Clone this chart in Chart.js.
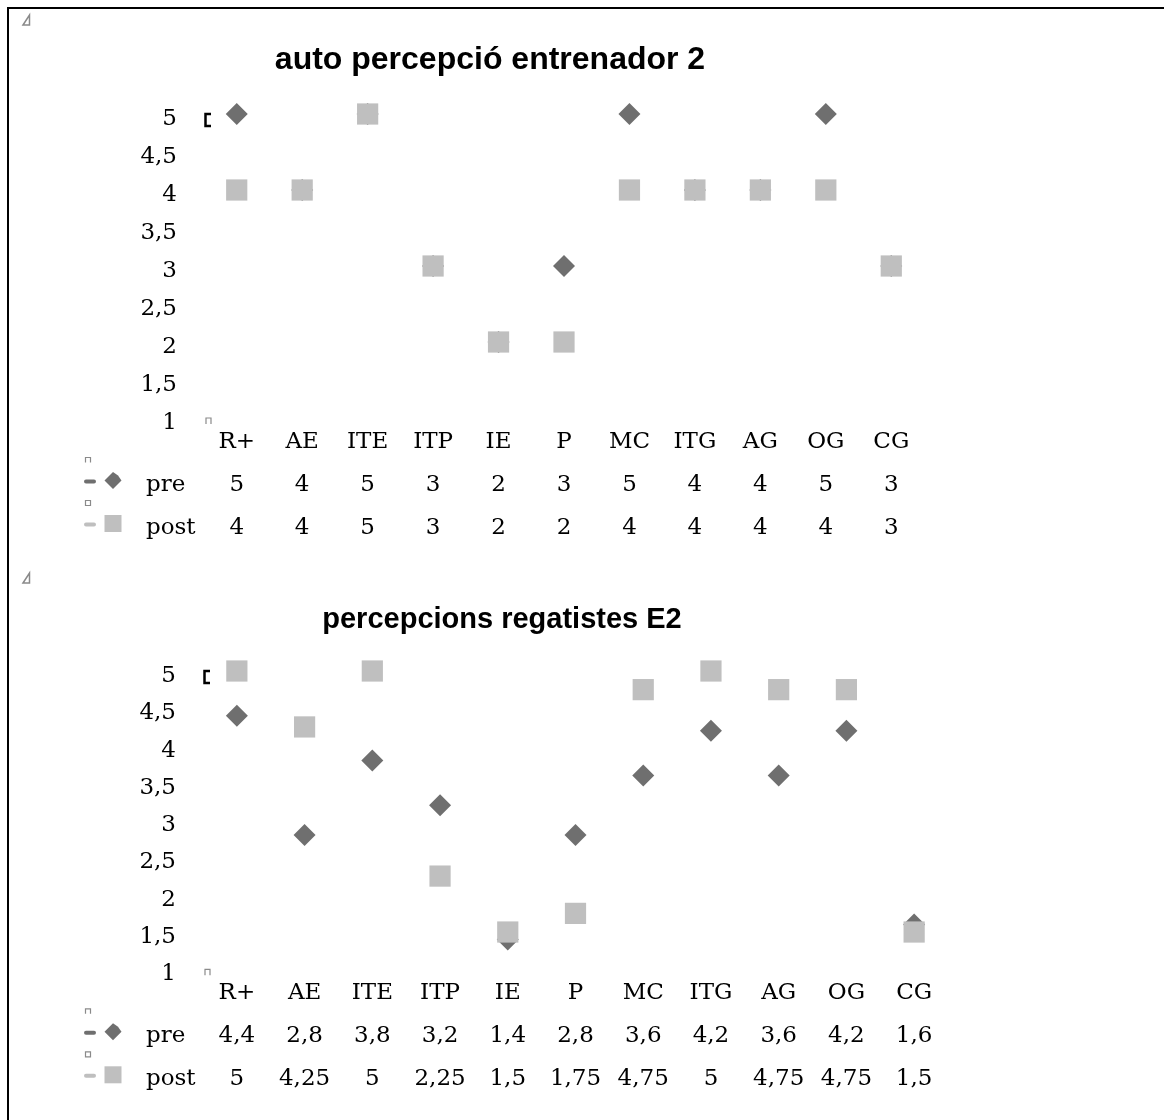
<!DOCTYPE html>
<html>
<head>
<meta charset="utf-8">
<script src="https://cdn.jsdelivr.net/npm/chart.js@4.4.0/dist/chart.umd.min.js"></script>
<style>
  html, body { margin: 0; padding: 0; background: #fff; }
  #page { position: relative; width: 1164px; height: 1120px; overflow: hidden; }
  .box { position: absolute; left: 0; width: 1164px; height: 560px; }
  #frame { position: absolute; left: 7px; top: 7px; width: 1300px; height: 1300px;
           border-left: 2px solid #000; border-top: 2px solid #000; pointer-events: none; }
</style>
</head>
<body>
<div id="page">
  <div class="box" style="top:0"><canvas id="coach" width="1164" height="560"></canvas></div>
  <div class="box" style="top:560px"><canvas id="sailors" width="1164" height="560"></canvas></div>
  <div id="frame"></div>
</div>
<script>
// Competence categories shared by both charts
const categories = ['R+', 'AE', 'ITE', 'ITP', 'IE', 'P', 'MC', 'ITG', 'AG', 'OG', 'CG'];
const seriesNames = ['pre', 'post'];

// Coach 2 self-perception
const coachPre  = [5, 4, 5, 3, 2, 3, 5, 4, 4, 5, 3];
const coachPost = [4, 4, 5, 3, 2, 2, 4, 4, 4, 4, 3];

// Sailors' perception of coach E2
const sailorsPre  = [4.4, 2.8, 3.8, 3.2, 1.4, 2.8, 3.6, 4.2, 3.6, 4.2, 1.6];
const sailorsPost = [5, 4.25, 5, 2.25, 1.5, 1.75, 4.75, 5, 4.75, 4.75, 1.5];

// Value axis
const yMin = 1, yMax = 5, yStep = 0.5;

const PRE_COLOR = '#6f6f6f';
const POST_COLOR = '#bfbfbf';
const SERIF = '"DejaVu Serif", serif';
const TEXT_SIZE = 23;
const fmt = v => String(v).replace('.', ',');

// Draws the data table under the plot, its legend keys and the small frame handles
const tablePlugin = {
  id: 'dataTable',
  afterDraw(chart, args, opts) {
    const ctx = chart.ctx;
    const xs = chart.scales.x;
    const area = chart.chartArea;
    ctx.save();
    ctx.font = opts.fontSize + 'px ' + SERIF;
    ctx.fillStyle = '#000';
    ctx.textBaseline = 'alphabetic';
    ctx.textAlign = 'center';
    chart.data.labels.forEach((lab, i) => {
      ctx.fillText(lab, xs.getPixelForValue(i), area.bottom + opts.headBase);
    });
    chart.data.datasets.forEach((ds, r) => {
      const base = area.bottom + opts.rowBase[r];
      ctx.fillStyle = '#000';
      ctx.textAlign = 'left';
      ctx.fillText(ds.label, opts.nameX, base);
      ctx.textAlign = 'center';
      ds.data.forEach((v, i) => ctx.fillText(fmt(v), xs.getPixelForValue(i), base));

      // legend key: short line + marker
      const cy = base - 9;
      ctx.strokeStyle = ds.backgroundColor;
      ctx.lineWidth = 4;
      ctx.lineCap = 'round';
      ctx.beginPath();
      ctx.moveTo(opts.keyX + 2, cy);
      ctx.lineTo(opts.keyX + 10, cy);
      ctx.stroke();
      ctx.fillStyle = ds.backgroundColor;
      const mx = opts.keyX + 29, my = cy - 1;
      ctx.beginPath();
      if (ds.pointStyle === 'rectRot') {
        ctx.moveTo(mx, my - 8.5);
        ctx.lineTo(mx + 5, my - 5);
        ctx.lineTo(mx + 8.5, my);
        ctx.lineTo(mx, my + 8.5);
        ctx.lineTo(mx - 8.5, my);
        ctx.closePath();
      } else {
        ctx.rect(mx - 8.5, my - 8.5, 17, 17);
      }
      ctx.fill();

      // small grey handle above the key
      ctx.strokeStyle = '#8a8a8a';
      ctx.lineWidth = 1.2;
      ctx.lineCap = 'butt';
      ctx.beginPath();
      const hx = opts.keyX + 1.5, hy = cy - 24;
      if (r === 0) {
        ctx.moveTo(hx, hy + 5); ctx.lineTo(hx, hy); ctx.lineTo(hx + 5, hy); ctx.lineTo(hx + 5, hy + 5);
      } else {
        ctx.rect(hx, hy, 5, 5);
      }
      ctx.stroke();
    });

    // plot-area handles
    ctx.strokeStyle = '#000';
    ctx.lineWidth = 2.5;
    ctx.beginPath();
    ctx.moveTo(area.left + 7, area.top);
    ctx.lineTo(area.left + 1.5, area.top);
    ctx.lineTo(area.left + 1.5, area.top + 12);
    ctx.lineTo(area.left + 7, area.top + 12);
    ctx.stroke();
    ctx.strokeStyle = '#8a8a8a';
    ctx.lineWidth = 1.2;
    ctx.beginPath();
    ctx.moveTo(area.left + 2, area.bottom + 6);
    ctx.lineTo(area.left + 2, area.bottom);
    ctx.lineTo(area.left + 7, area.bottom);
    ctx.lineTo(area.left + 7, area.bottom + 6);
    ctx.stroke();

    // anchor mark in the corner
    ctx.strokeStyle = '#8a8a8a';
    ctx.lineWidth = 1.5;
    ctx.beginPath();
    ctx.moveTo(23, opts.anchorY + 10);
    ctx.lineTo(29.5, opts.anchorY);
    ctx.lineTo(29.5, opts.anchorY + 10);
    ctx.closePath();
    ctx.stroke();
    ctx.restore();
  }
};

function buildChart(id, spec) {
  return new Chart(document.getElementById(id), {
    type: 'line',
    data: {
      labels: categories,
      datasets: [
        {
          label: seriesNames[0], data: spec.pre, showLine: false, order: 1, clip: false,
          pointStyle: 'rectRot', pointRadius: 11, pointHoverRadius: 11,
          backgroundColor: PRE_COLOR, borderColor: PRE_COLOR, pointBorderWidth: 0
        },
        {
          label: seriesNames[1], data: spec.post, showLine: false, order: 0, clip: false,
          pointStyle: 'rect', pointRadius: 15, pointHoverRadius: 15,
          backgroundColor: POST_COLOR, borderColor: POST_COLOR, pointBorderWidth: 0
        }
      ]
    },
    options: {
      responsive: false,
      animation: false,
      events: [],
      layout: { padding: { left: 56, right: spec.padRight, top: spec.padTop, bottom: spec.padBottom } },
      scales: {
        x: { type: 'category', display: false, offset: true },
        y: {
          min: yMin, max: yMax,
          grid: { display: false, drawTicks: false },
          border: { display: false },
          afterFit: s => { s.width = spec.axisWidth; },
          ticks: {
            stepSize: yStep, padding: 27, labelOffset: 5, color: '#000',
            font: { family: SERIF, size: TEXT_SIZE },
            callback: v => fmt(v)
          }
        }
      },
      plugins: {
        legend: { display: false },
        tooltip: { enabled: false },
        title: {
          display: true, text: spec.title, color: '#000',
          font: { family: '"Liberation Sans", Arial, sans-serif', size: spec.titleSize, weight: 'bold', lineHeight: 1.2 },
          padding: { top: 0, bottom: spec.titleGap }
        },
        dataTable: {
          fontSize: TEXT_SIZE, headBase: 30, rowBase: [72.5, 115.5],
          nameX: 146, keyX: 84, anchorY: spec.anchorY
        }
      }
    },
    plugins: [tablePlugin]
  });
}

buildChart('coach', {
  title: 'auto percepció entrenador 2', titleSize: 32,
  pre: coachPre, post: coachPost,
  padTop: 60 - 0.6 * 32, titleGap: 54 - 0.6 * 32,
  padBottom: 560 - 418, padRight: 1164 - 924, axisWidth: 148, anchorY: 15
});

buildChart('sailors', {
  title: 'percepcions regatistes E2', titleSize: 29,
  pre: sailorsPre, post: sailorsPost,
  padTop: 60 - 0.6 * 29, titleGap: 51 - 0.6 * 29,
  padBottom: 560 - 409.3, padRight: 1164 - 948, axisWidth: 147, anchorY: 13
});
</script>
</body>
</html>
